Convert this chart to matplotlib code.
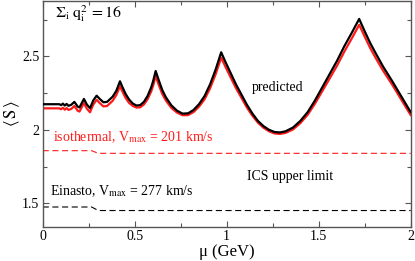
import matplotlib
matplotlib.use("Agg")
import matplotlib.pyplot as plt

plt.rcParams['font.family'] = ['Liberation Serif', 'DejaVu Serif']
plt.rcParams['mathtext.fontset'] = 'stix'

# predicted <S> vs mu (GeV)
mu_pred = [0.0, 0.05, 0.09, 0.10, 0.11, 0.12, 0.13, 0.14, 0.155, 0.172,
           0.19, 0.20, 0.224, 0.24, 0.257, 0.275, 0.293, 0.31, 0.33, 0.35,
           0.38, 0.40, 0.42, 0.43, 0.45, 0.47, 0.49, 0.51, 0.53, 0.55,
           0.57, 0.59, 0.60, 0.614, 0.63, 0.65, 0.67, 0.70, 0.73, 0.76,
           0.79, 0.82, 0.85, 0.88, 0.91, 0.94, 0.97, 0.99, 1.02, 1.05,
           1.08, 1.11, 1.14, 1.17, 1.20, 1.23, 1.26, 1.29, 1.32, 1.36,
           1.40, 1.44, 1.48, 1.52, 1.56, 1.60, 1.64, 1.68, 1.72, 1.75,
           1.78, 1.81, 1.85, 1.90, 1.95, 2.0]
s_black = [2.174, 2.174, 2.174, 2.168, 2.178, 2.165, 2.176, 2.163, 2.17, 2.19,
           2.158, 2.152, 2.21, 2.172, 2.147, 2.20, 2.232, 2.21, 2.187, 2.19,
           2.225, 2.265, 2.33, 2.30, 2.245, 2.205, 2.178, 2.165, 2.168, 2.19,
           2.23, 2.29, 2.33, 2.40, 2.34, 2.27, 2.22, 2.165, 2.13, 2.11,
           2.112, 2.135, 2.175, 2.23, 2.31, 2.41, 2.527, 2.47, 2.39, 2.31,
           2.24, 2.17, 2.11, 2.06, 2.025, 2.0, 1.985, 1.982, 1.99, 2.015,
           2.06, 2.12, 2.20, 2.29, 2.38, 2.47, 2.57, 2.66, 2.754, 2.67,
           2.59, 2.52, 2.43, 2.33, 2.225, 2.12]
s_red = [2.146, 2.146, 2.146, 2.140, 2.150, 2.137, 2.148, 2.135, 2.142, 2.162,
         2.130, 2.124, 2.182, 2.144, 2.119, 2.172, 2.204, 2.182, 2.159, 2.162,
         2.197, 2.236, 2.297, 2.269, 2.218, 2.182, 2.162, 2.151, 2.153, 2.172,
         2.208, 2.262, 2.299, 2.366, 2.308, 2.243, 2.198, 2.148, 2.117, 2.099,
         2.100, 2.121, 2.158, 2.208, 2.283, 2.378, 2.491, 2.437, 2.360, 2.284,
         2.218, 2.151, 2.095, 2.048, 2.014, 1.990, 1.975, 1.972, 1.979, 2.002,
         2.045, 2.102, 2.178, 2.264, 2.350, 2.437, 2.533, 2.622, 2.714, 2.634,
         2.556, 2.488, 2.402, 2.306, 2.203, 2.100]

# ICS upper limits (dashed)
mu_lim = [0.0, 0.266, 0.302, 2.0]
s_iso = [1.858, 1.858, 1.840, 1.840]
s_ein = [1.475, 1.475, 1.451, 1.451]

fig = plt.figure(figsize=(4.15, 2.61), dpi=100)
ax = fig.add_axes([0.1029, 0.1314, 0.8867, 0.8648])

ax.plot(mu_pred, s_black, color='black', lw=1.6, zorder=3)
ax.plot(mu_pred, s_red, color='#ff1a1a', lw=1.6, zorder=2)
ax.plot(mu_lim, s_iso, color='#ff1a1a', lw=0.8, dashes=(5.5, 3.2))
ax.plot(mu_lim, s_ein, color='black', lw=0.8, dashes=(5.5, 3.2))

ax.set_xlim(0, 2)
ax.set_ylim(1.341, 2.876)
ax.set_xticks([0, 0.5, 1, 1.5, 2])
ax.set_xticklabels(['0', '0.5', '1', '1.5', '2'])
ax.set_xticks([0.25, 0.75, 1.25, 1.75], minor=True)
ax.set_yticks([1.5, 2, 2.5])
ax.set_yticklabels(['1.5', '2', '2.5'])
ax.set_yticks([1.75, 2.25, 2.75], minor=True)
ax.tick_params(which='both', direction='in', top=True, right=True,
               labelsize=10, color='#555555', width=0.8)
ax.tick_params(which='major', length=4.5, pad=2.5)
ax.tick_params(which='minor', length=3)
for s in ax.spines.values():
    s.set_color('#555555')
    s.set_linewidth(1.0)

ax.set_xlabel('μ (GeV)', fontsize=12, va='top')
ax.xaxis.set_label_coords(0.5, -0.075)
ax.set_ylabel(r'$\langle\,\bar{\mathrm{S}}\,\rangle$', fontsize=12, labelpad=0)

ax.text(0.067, 2.79, r'$\Sigma_{\mathrm{i}}\;\mathrm{q}_{\mathrm{i}}^{2}\, = 16$', fontsize=11.5, va='center')
ax.text(1.279, 2.291, 'predicted', fontsize=10, ha='center', va='center')
ax.text(0.054, 1.924, r'isothermal, V$_{\mathrm{max}}$ = 201 km/s', fontsize=10,
        color='#ff1a1a', va='baseline')
ax.text(1.109, 1.658, 'ICS upper limit', fontsize=10, va='baseline')
ax.text(0.04, 1.552, r'Einasto, V$_{\mathrm{max}}$ = 277 km/s', fontsize=10, va='baseline')

fig.savefig('out.png', dpi=100)
